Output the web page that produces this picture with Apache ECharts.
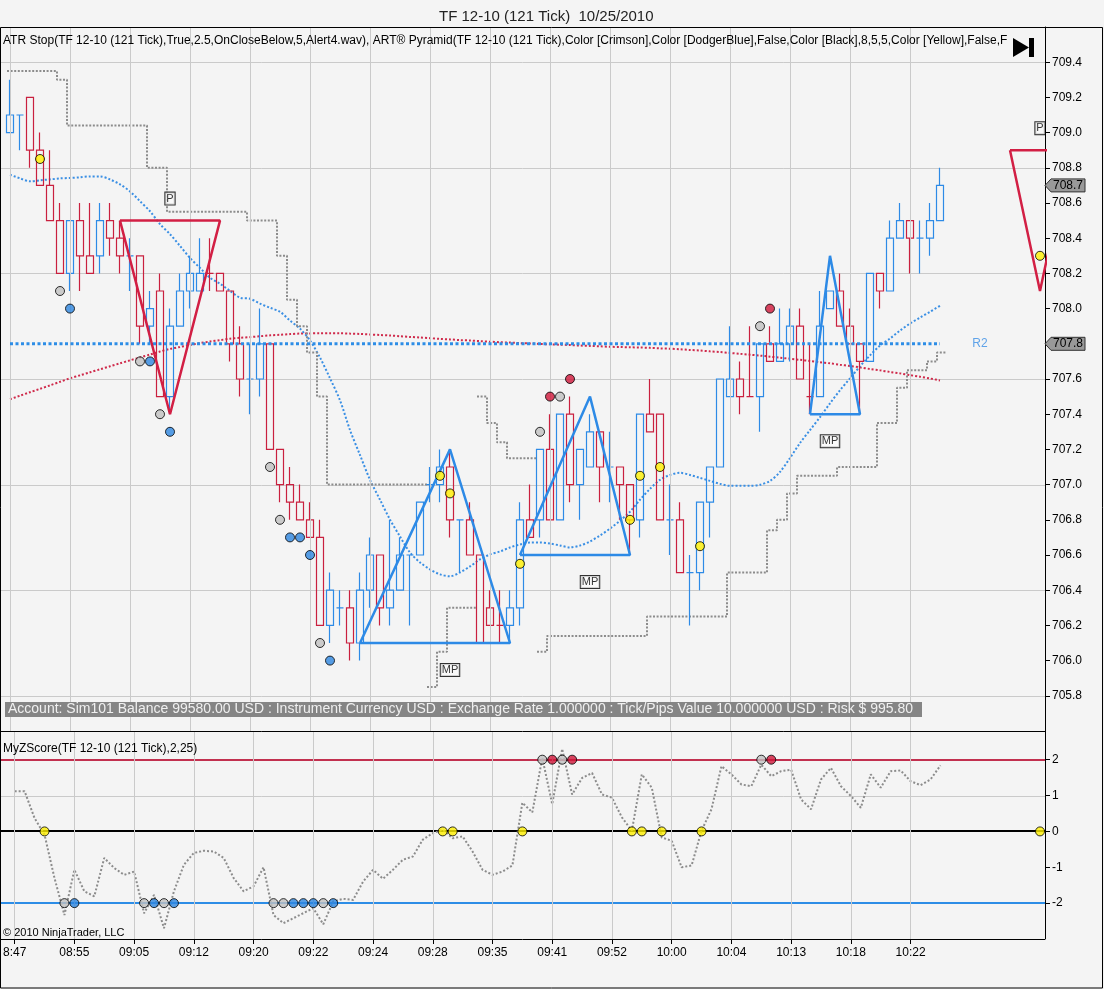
<!DOCTYPE html>
<html><head><meta charset="utf-8">
<script src="https://cdn.jsdelivr.net/npm/echarts@6/dist/echarts.min.js"></script>
<style>html,body{margin:0;padding:0;background:#f4f4f4}#c{width:1104px;height:989px}</style>
</head><body><div id="c"></div>
<script>
// ---------- DATA ----------
const timeLabels = ['8:47','08:55','09:05','09:12','09:20','09:22','09:24','09:28','09:35','09:41','09:52','10:00','10:04','10:13','10:18','10:22'];
const labelStep = 6;
const slotCount = 104;

const opens = [709.0,709.1,709.2,708.9,708.7,708.5,708.2,708.5,708.3,708.3,
708.5,708.4,708.3,708.3,707.9,708.1,707.5,707.9,708.1,708.1,
708.2,708.2,708.1,707.8,707.6,707.6,707.8,707.2,707.0,706.9,
706.8,706.7,706.2,706.3,706.3,706.1,706.4,706.6,706.3,706.4,
706.6,706.6,707.0,707.0,707.1,706.8,706.8,706.6,706.3,706.2,
706.2,706.3,706.8,706.8,707.2,706.8,707.4,707.0,707.1,707.3,
707.1,707.1,707.0,706.8,707.4,707.4,706.8,706.8,706.5,706.5,
706.9,707.1,707.5,707.6,707.5,707.5,707.8,707.7,707.8,707.9,
707.5,707.5,708.0,708.1,707.9,707.8,707.7,708.2,708.1,708.4,
708.5,708.4,708.4,708.5];
const closes = [709.1,709.1,708.9,708.7,708.5,708.2,708.5,708.3,708.2,708.5,
708.4,708.3,708.3,707.9,708.0,707.5,707.9,708.1,708.2,708.2,
708.2,708.1,707.8,707.6,707.6,707.8,707.2,707.0,706.9,706.8,
706.7,706.2,706.4,706.3,706.1,706.4,706.6,706.3,706.4,706.6,
706.6,706.9,707.0,707.1,706.8,706.8,706.6,706.1,706.2,706.2,
706.3,706.8,706.7,707.2,706.8,707.4,707.0,707.2,707.3,707.1,
707.1,707.0,706.8,707.4,707.3,706.8,706.8,706.5,706.5,706.9,
707.1,707.6,707.6,707.5,707.5,707.8,707.7,707.8,707.9,707.6,
707.5,707.9,708.1,707.9,707.8,707.7,708.2,708.1,708.4,708.5,
708.4,708.4,708.5,708.7];
const lows = [709.0,708.9,708.8,708.7,708.5,708.2,708.1,708.1,708.2,708.2,
708.3,708.2,708.1,707.8,707.8,707.5,707.4,707.9,708.0,708.1,
708.1,708.1,707.7,707.5,707.4,707.5,707.2,706.9,706.8,706.8,
706.7,706.2,706.1,706.2,706.0,706.0,706.3,706.2,706.2,706.4,
706.2,706.6,706.9,706.9,706.7,706.5,706.6,706.1,706.2,706.1,
706.1,706.2,706.7,706.7,706.8,706.8,706.9,706.8,707.1,706.9,
706.9,706.8,706.6,706.7,707.3,706.8,706.6,706.5,706.2,706.4,
706.7,707.1,707.5,707.4,707.5,707.3,707.7,707.7,707.7,707.6,
707.4,707.5,708.0,707.9,707.8,707.4,707.7,708.0,708.1,708.4,
708.2,708.2,708.3,708.5];
const highs = [709.3,709.1,709.2,709.0,708.9,708.6,708.5,708.6,708.6,708.6,
708.6,708.5,708.4,708.3,708.1,708.2,708.0,708.2,708.3,708.4,
708.4,708.2,708.1,707.9,707.8,708.0,707.8,707.2,707.1,707.0,
706.9,706.8,706.5,706.4,706.4,706.5,706.7,706.6,706.8,706.7,
706.6,706.9,707.1,707.2,707.2,706.8,706.9,706.6,706.4,706.4,
706.4,706.9,707.0,707.2,707.4,707.4,707.5,707.2,707.4,707.3,
707.3,707.1,707.0,707.4,707.6,707.4,707.0,706.9,706.6,706.9,
707.1,707.6,707.9,707.7,707.9,707.8,707.9,708.0,708.0,708.0,
707.8,708.1,708.1,708.2,708.0,707.8,708.2,708.2,708.5,708.6,
708.5,708.5,708.6,708.8];
const dojiDown = [20, 49, 74, 80];

const blueMA = [708.761,708.740,708.723,708.729,708.734,708.740,708.742,708.746,708.751,708.751,
708.734,708.706,708.666,708.610,708.553,708.480,708.423,708.356,708.288,708.231,
708.175,708.141,708.101,708.062,708.056,708.028,708.005,707.982,707.932,707.886,
707.819,707.722,707.604,707.479,707.310,707.168,707.027,706.914,706.801,706.705,
706.614,706.558,706.518,706.490,706.479,706.501,706.535,706.575,706.603,706.620,
706.643,706.660,706.671,706.671,706.665,706.654,706.643,706.654,706.677,706.711,
706.750,706.795,706.846,706.914,706.976,707.027,707.055,707.067,707.055,707.038,
707.021,707.004,706.993,706.993,706.993,706.999,707.021,707.072,707.151,707.236,
707.310,707.383,707.462,707.536,707.604,707.672,707.734,707.790,707.830,707.875,
707.915,707.949,707.982,708.016];
const redMA = [707.485,707.505,707.525,707.544,707.564,707.584,707.604,707.621,707.638,707.655,
707.672,707.689,707.706,707.722,707.739,707.756,707.771,707.782,707.793,707.804,
707.813,707.821,707.829,707.834,707.838,707.843,707.848,707.851,707.855,707.858,
707.859,707.860,707.860,707.860,707.858,707.856,707.853,707.850,707.847,707.843,
707.839,707.836,707.832,707.828,707.825,707.821,707.819,707.815,707.812,707.809,
707.807,707.804,707.802,707.799,707.797,707.795,707.793,707.790,707.788,707.786,
707.783,707.782,707.780,707.779,707.777,707.774,707.772,707.769,707.765,707.762,
707.757,707.753,707.748,707.743,707.738,707.733,707.727,707.721,707.715,707.709,
707.702,707.695,707.689,707.681,707.674,707.666,707.657,707.649,707.640,707.632,
707.622,707.613,707.603,707.592];

const N = null;
const atrUpper = [709.35,709.35,709.35,709.35,709.35,709.30,709.04,709.04,709.04,709.04,
709.04,709.04,709.04,709.04,708.80,708.80,708.55,708.55,708.55,708.55,
708.55,708.55,708.55,708.55,708.50,708.50,708.50,708.30,708.05,707.90,
707.75,707.50,707.00,707.00,707.00,707.00,707.00,707.00,707.00,707.00,
707.00,707.00,N,N,N,N,N,707.50,707.35,707.24,
707.15,707.15,707.15,N,N,N,N,N,N,N,
N,N,N,N,N,N,N,N,N,N,N,N,N,N,N,N,N,N,N,N,
N,N,N,N,N,N,N,N,N,N,N,N,N,N];
const atrLower = [N,N,N,N,N,N,N,N,N,N,N,N,N,N,N,N,N,N,N,N,
N,N,N,N,N,N,N,N,N,N,N,N,N,N,N,N,N,N,N,N,
N,N,705.85,706.05,706.30,706.30,706.30,N,N,N,
N,N,N,706.05,706.14,706.14,706.14,706.14,706.14,706.14,
706.14,706.14,706.14,706.14,706.25,706.25,706.25,706.25,706.25,706.25,
706.25,706.25,706.50,706.50,706.50,706.50,706.74,706.80,706.95,707.05,
707.05,707.05,707.05,707.10,707.10,707.10,707.10,707.35,707.35,707.55,
707.65,707.65,707.70,707.75];

const r2Level = 707.8;
const r2From = 0, r2To = 93, r2LabelAt = 97;

const pyrLeft  = [11, 35, 51, 80, 100];
const pyrRight = [21, 50, 62, 85, 106];
const pyrApex  = [16, 44, 58, 82, 103];
const pyrBase  = [708.5, 706.1, 706.6, 707.4, 708.9];
const pyrTip   = [707.4, 707.2, 707.5, 708.3, 708.1];
const pyrKind  = ['down', 'up', 'up', 'up', 'down'];

const yellowIdx = [3, 43, 44, 51, 62, 63, 65, 69];
const lowGrayIdx = [5, 13, 15, 26, 27, 31];
const lowBlueIdx = [6, 14, 16, 28, 29, 30, 32];
const highGrayIdx = [53, 55, 75];
const highRedIdx = [54, 56, 76];
const projYellowIdx = 103, projYellowPrice = 708.3;
const dotOffset = 0.1;

const zScore = [1.12,1.12,0.37,-0.09,-1.30,-2.33,-1.07,-1.67,-1.81,-0.74,
-1.02,-1.21,-1.12,-2.28,-1.77,-2.70,-1.67,-0.93,-0.60,-0.54,
-0.56,-0.74,-1.30,-1.67,-1.53,-1.00,-2.33,-2.56,-2.42,-2.28,
-2.14,-2.59,-1.95,-1.88,-1.91,-1.40,-1.07,-1.32,-1.07,-0.79,
-0.70,-0.23,-0.05,0.05,-0.19,-0.14,-0.56,-1.07,-1.21,-1.12,
-0.95,0.80,0.53,2.05,0.76,2.30,1.03,1.49,1.63,1.03,
0.94,0.39,0.02,1.59,1.22,-0.17,-0.26,-1.00,-0.95,0.02,
0.62,1.82,1.59,1.31,1.26,1.86,1.54,1.68,1.72,0.89,
0.62,1.45,1.77,1.26,0.99,0.66,1.59,1.22,1.68,1.70,
1.40,1.29,1.45,1.84];
const zUpper = 2, zMid = 0, zLower = -2;

const priceMin = 705.6, priceMax = 709.6, priceStep = 0.2;
const priceGrid = [705.8, 706.4, 707.0, 707.6, 708.2, 708.8, 709.4];
const zMin = -3, zMax = 2.8, zStep = 1;
const zGrid = [1];

const titleText = 'TF 12-10 (121 Tick)  10/25/2010';
const indicatorText = 'ATR Stop(TF 12-10 (121 Tick),True,2.5,OnCloseBelow,5,Alert4.wav), ART\u00ae Pyramid(TF 12-10 (121 Tick),Color [Crimson],Color [DodgerBlue],False,Color [Black],8,5,5,Color [Yellow],False,F';
const accountText = 'Account: Sim101 Balance 99580.00 USD : Instrument Currency USD : Exchange Rate 1.000000 : Tick/Pips Value 10.000000 USD : Risk $ 995.80';
const zTitleText = 'MyZScore(TF 12-10 (121 Tick),2,25)';
const copyrightText = '\u00a9 2010 NinjaTrader, LLC';

// ---------- STYLE ----------
const FONT = '"Liberation Sans", Arial, sans-serif';
const UP = '#2d8ae6', DOWN = '#c9203f';
const YEL = '#fff000', GRAY = '#c0c0c0', BLUE_DOT = '#2d86e0', RED_DOT = '#d0163a';
const GRID_C = '#cacaca';
const ATR_C = '#8c8c8c';

const chart = echarts.init(document.getElementById('c'), null, {renderer: 'canvas', width: 1104, height: 989});
const cats = Array.from({length: slotCount}, (_, i) => String(i));
const vertIdx = timeLabels.map((_, k) => k * labelStep);
const labelInterval = (idx) => idx % labelStep === 0 && idx / labelStep < timeLabels.length;

const candleData = opens.map((o, i) => {
  const item = {value: [o, closes[i], lows[i], highs[i]]};
  if (o === closes[i]) {
    const c = dojiDown.includes(i) ? DOWN : UP;
    item.itemStyle = {borderColor: c, borderColor0: c};
  }
  return item;
});

function stepRuns(vals) {
  const out = []; let cur = null;
  vals.forEach((v, i) => {
    if (v == null) { cur = null; return; }
    if (!cur) { cur = []; out.push(cur); }
    cur.push([i - 0.3, v], [i + 0.7, v]);
  });
  return out;
}

const series = [];
series.push({
  type: 'line', xAxisIndex: 1, yAxisIndex: 0, data: [], z: 1, silent: true,
  markLine: {symbol: ['none', 'none'], silent: true, animation: false, label: {show: false},
    lineStyle: {color: GRID_C, width: 1, type: 'solid'}, data: vertIdx.map(i => ({xAxis: i}))}
});
series.push({
  type: 'line', xAxisIndex: 3, yAxisIndex: 1, data: [], z: 1, silent: true,
  markLine: {symbol: ['none', 'none'], silent: true, animation: false, label: {show: false},
    lineStyle: {color: GRID_C, width: 1, type: 'solid'}, data: vertIdx.map(i => ({xAxis: i}))}
});
series.push({type: 'line', xAxisIndex: 1, yAxisIndex: 0, z: 3, showSymbol: false, smooth: 0.3,
  data: redMA.map((v, i) => [i, v]), lineStyle: {color: '#cf2a4b', width: 2, type: [2, 2]}});
series.push({type: 'line', xAxisIndex: 1, yAxisIndex: 0, z: 3, showSymbol: false, smooth: 0.3,
  data: blueMA.map((v, i) => [i, v]), lineStyle: {color: '#3a8fe4', width: 2, type: [2, 2]}});
stepRuns(atrUpper).concat(stepRuns(atrLower)).forEach(run => {
  series.push({type: 'line', xAxisIndex: 1, yAxisIndex: 0, z: 3, showSymbol: false,
    data: run, lineStyle: {color: ATR_C, width: 2, type: [2, 1.6]}});
});
series.push({
  type: 'candlestick', xAxisIndex: 0, yAxisIndex: 0, z: 4, barWidth: 7,
  itemStyle: {color: 'transparent', color0: 'transparent', borderColor: UP, borderColor0: DOWN, borderWidth: 1.2},
  data: candleData
});
series.push({type: 'line', xAxisIndex: 1, yAxisIndex: 0, z: 5, showSymbol: false,
  data: [[r2From, r2Level], [r2To, r2Level]], lineStyle: {color: '#2d8de6', width: 3, type: [3, 2.5]}});
series.push({type: 'scatter', xAxisIndex: 1, yAxisIndex: 0, z: 5, symbolSize: 1,
  itemStyle: {color: 'transparent'}, data: [[r2LabelAt, r2Level]],
  label: {show: true, position: 'inside', formatter: 'R2', color: '#3a8ee6', fontSize: 12, fontFamily: FONT}});
pyrLeft.forEach((l, k) => {
  const isDown = pyrKind[k] === 'down';
  const col = isDown ? '#d21f44' : '#2d8ae6';
  series.push({type: 'line', xAxisIndex: 1, yAxisIndex: 0, z: 6, showSymbol: false,
    data: [[l, pyrBase[k]], [pyrRight[k], pyrBase[k]], [pyrApex[k], pyrTip[k]], [l, pyrBase[k]]],
    lineStyle: {color: col, width: 2.5}});
  series.push({type: 'scatter', xAxisIndex: 1, yAxisIndex: 0, z: 7, symbolSize: 1,
    itemStyle: {color: 'transparent'}, data: [[pyrApex[k], pyrBase[k]]],
    label: {show: true, position: 'inside', offset: [0, isDown ? -22 : 27], formatter: isDown ? 'P' : 'MP',
      color: '#000', fontSize: 11, fontFamily: FONT, backgroundColor: '#fafafa',
      borderColor: '#000', borderWidth: 1, padding: [1, 1, 0, 1], lineHeight: 11}});
});
const mainDots = [];
yellowIdx.forEach(i => mainDots.push({value: [i, (highs[i] + lows[i]) / 2], itemStyle: {color: YEL}}));
lowGrayIdx.forEach(i => mainDots.push({value: [i, lows[i] - dotOffset], itemStyle: {color: GRAY}}));
lowBlueIdx.forEach(i => mainDots.push({value: [i, lows[i] - dotOffset], itemStyle: {color: BLUE_DOT}}));
highGrayIdx.forEach(i => mainDots.push({value: [i, highs[i] + dotOffset], itemStyle: {color: GRAY}}));
highRedIdx.forEach(i => mainDots.push({value: [i, highs[i] + dotOffset], itemStyle: {color: RED_DOT}}));
mainDots.push({value: [projYellowIdx, projYellowPrice], itemStyle: {color: YEL}});
series.push({type: 'scatter', xAxisIndex: 1, yAxisIndex: 0, z: 8, symbolSize: 9,
  itemStyle: {borderColor: '#000', borderWidth: 1}, data: mainDots});

series.push({type: 'line', xAxisIndex: 3, yAxisIndex: 1, z: 3, showSymbol: false,
  data: zScore.map((v, i) => [i, v]), lineStyle: {color: ATR_C, width: 2, type: [2, 2]}});
const zDots = [];
yellowIdx.forEach(i => zDots.push({value: [i, zMid], itemStyle: {color: YEL}}));
zDots.push({value: [projYellowIdx, zMid], itemStyle: {color: YEL}});
lowGrayIdx.forEach(i => zDots.push({value: [i, zLower], itemStyle: {color: GRAY}}));
lowBlueIdx.forEach(i => zDots.push({value: [i, zLower], itemStyle: {color: BLUE_DOT}}));
highGrayIdx.forEach(i => zDots.push({value: [i, zUpper], itemStyle: {color: GRAY}}));
highRedIdx.forEach(i => zDots.push({value: [i, zUpper], itemStyle: {color: RED_DOT}}));
series.push({type: 'scatter', xAxisIndex: 3, yAxisIndex: 1, z: 8, symbolSize: 9,
  itemStyle: {borderColor: '#000', borderWidth: 1}, data: zDots});

const noZero = {show: false, onZero: false};
const option = {
  animation: false,
  backgroundColor: '#f4f4f4',
  textStyle: {fontFamily: FONT},
  title: {text: titleText, left: 434, top: 4, textStyle: {fontSize: 15, fontWeight: 'normal', color: '#222', fontFamily: FONT}},
  grid: [
    {left: 5, top: 27, width: 1040, height: 704},
    {left: 5, top: 731, width: 1040, height: 208}
  ],
  xAxis: [
    {type: 'category', gridIndex: 0, data: cats, boundaryGap: true, axisLine: noZero, axisTick: {show: false}, axisLabel: {show: false}, splitLine: {show: false}},
    {type: 'value', gridIndex: 0, min: -0.5, max: slotCount - 0.5, axisLine: noZero, axisTick: {show: false}, axisLabel: {show: false}, splitLine: {show: false}},
    {type: 'category', gridIndex: 1, data: cats, boundaryGap: true, axisLine: noZero,
      axisTick: {show: true, alignWithLabel: true, interval: labelInterval, length: 5, lineStyle: {color: '#000'}},
      axisLabel: {show: true, interval: labelInterval, margin: 8, color: '#000', fontSize: 12, fontFamily: FONT,
        formatter: (v, idx) => timeLabels[Math.round(idx / labelStep)] || ''},
      splitLine: {show: false}},
    {type: 'value', gridIndex: 1, min: -0.5, max: slotCount - 0.5, axisLine: noZero, axisTick: {show: false}, axisLabel: {show: false}, splitLine: {show: false}}
  ],
  yAxis: [
    {type: 'value', gridIndex: 0, position: 'right', min: priceMin, max: priceMax, interval: priceStep,
      axisLine: {show: true, onZero: false, lineStyle: {color: '#000', width: 1}},
      axisTick: {show: true, length: 5, lineStyle: {color: '#000'}},
      axisLabel: {color: '#000', fontSize: 12, margin: 7, fontFamily: FONT, showMinLabel: false, showMaxLabel: false,
        formatter: v => v.toFixed(1)},
      splitLine: {show: false}},
    {type: 'value', gridIndex: 1, position: 'right', min: zMin, max: zMax, interval: zStep,
      axisLine: {show: true, onZero: false, lineStyle: {color: '#000', width: 1}},
      axisTick: {show: true, length: 5, lineStyle: {color: '#000'}},
      axisLabel: {color: '#000', fontSize: 12, margin: 7, fontFamily: FONT, showMinLabel: false, showMaxLabel: false,
        formatter: v => String(Math.round(v))},
      splitLine: {show: false}}
  ],
  series: series
};
chart.setOption(option);

// ---------- decorations (positions through the chart's own scales) ----------
const axisX = chart.convertToPixel({xAxisIndex: 1}, slotCount - 0.5);
const mainTop = chart.convertToPixel({yAxisIndex: 0}, priceMax);
const mainBottom = chart.convertToPixel({yAxisIndex: 0}, priceMin);
const zBottom = chart.convertToPixel({yAxisIndex: 1}, zMin);
function hRule(yAxisIndex, value, stroke, width, z) {
  const y = Math.round(chart.convertToPixel({yAxisIndex: yAxisIndex}, value)) + (width % 2 ? 0.5 : 0);
  return {type: 'line', z: z, silent: true, shape: {x1: 0, y1: y, x2: axisX, y2: y}, style: {stroke: stroke, lineWidth: width}};
}
function tag(value, text) {
  const y = chart.convertToPixel({yAxisIndex: 0}, value);
  return [
    {type: 'polygon', z: 100, shape: {points: [[axisX, y], [axisX + 6, y - 6.5], [axisX + 40, y - 6.5], [axisX + 40, y + 6.5], [axisX + 6, y + 6.5]]},
      style: {fill: '#999', stroke: '#333', lineWidth: 1}},
    {type: 'text', z: 101, style: {text: text, x: axisX + 8, y: y, verticalAlign: 'middle', fill: '#000', fontSize: 12, fontFamily: FONT}}
  ];
}
const rules = priceGrid.map(p => hRule(0, p, GRID_C, 1, 1))
  .concat(zGrid.map(p => hRule(1, p, GRID_C, 1, 1)))
  .concat([hRule(1, zUpper, '#c2304f', 2, 2), hRule(1, zMid, '#000', 2, 2), hRule(1, zLower, '#2d8de6', 2, 2)]);
const graphics = rules.concat([
  {type: 'rect', z: 100, shape: {x: 0.5, y: mainTop + 0.5, width: 1102, height: 988 - mainTop - 0.5}, style: {fill: 'none', stroke: '#000', lineWidth: 1}},
  {type: 'line', z: 100, shape: {x1: 0, y1: mainBottom + 0.5, x2: axisX, y2: mainBottom + 0.5}, style: {stroke: '#000', lineWidth: 1}},
  {type: 'line', z: 100, shape: {x1: 0, y1: zBottom + 0.5, x2: axisX, y2: zBottom + 0.5}, style: {stroke: '#000', lineWidth: 1}},
  {type: 'text', z: 100, style: {text: indicatorText, x: 3, y: mainTop + 14, verticalAlign: 'middle', fill: '#000', fontSize: 12, fontFamily: FONT, width: axisX - 6, overflow: 'truncate', ellipsis: ''}},
  {type: 'rect', z: 100, shape: {x: 5, y: mainBottom - 29, width: 917, height: 15}, style: {fill: '#858585'}},
  {type: 'text', z: 101, style: {text: accountText, x: 8, y: mainBottom - 21.5, verticalAlign: 'middle', fill: '#f0f0f0', fontSize: 14, fontFamily: FONT}},
  {type: 'text', z: 100, style: {text: zTitleText, x: 3, y: mainBottom + 18, verticalAlign: 'middle', fill: '#000', fontSize: 12, fontFamily: FONT}},
  {type: 'text', z: 100, style: {text: copyrightText, x: 3, y: zBottom - 6, verticalAlign: 'middle', fill: '#000', fontSize: 11, fontFamily: FONT}},
  {type: 'polygon', z: 102, shape: {points: [[1013, 38], [1029, 47.5], [1013, 57]]}, style: {fill: '#000'}},
  {type: 'rect', z: 102, shape: {x: 1029, y: 38, width: 5, height: 19}, style: {fill: '#000'}}
]).concat(tag(closes[closes.length - 1], closes[closes.length - 1].toFixed(1))).concat(tag(r2Level, r2Level.toFixed(1)));
chart.setOption({graphic: graphics});
</script>
</body></html>
